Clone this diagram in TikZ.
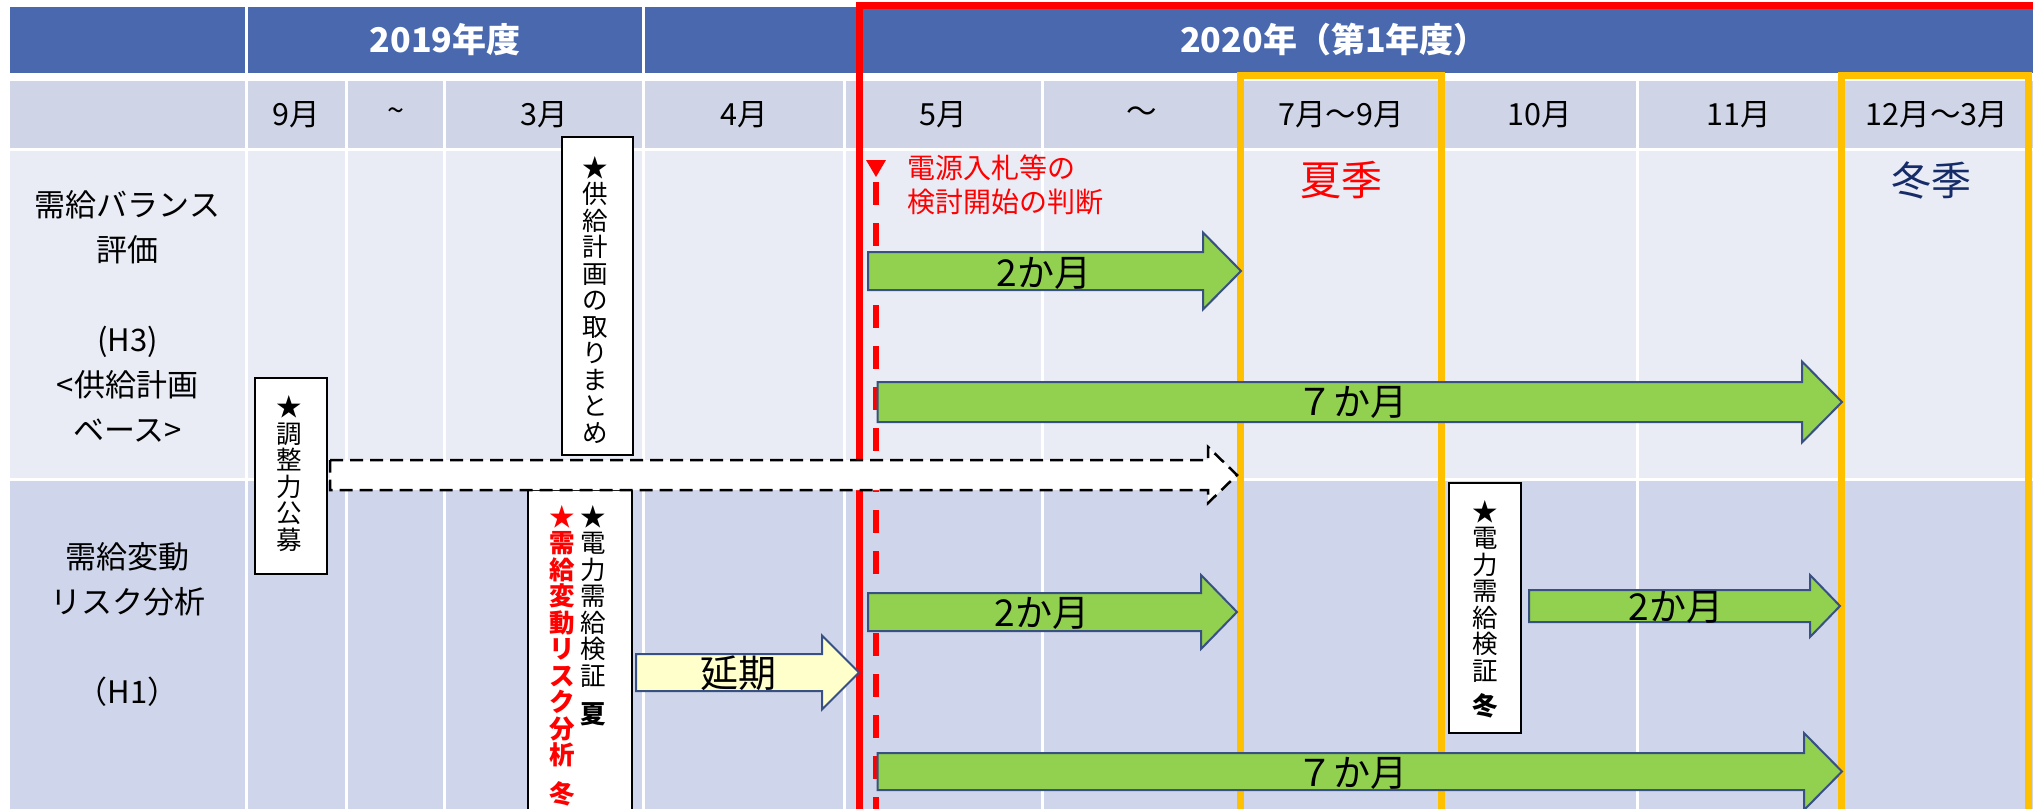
\documentclass[tikz,border=0pt]{standalone}
\usepackage{fontspec}
\setmainfont{Noto Sans CJK JP}
\definecolor{hdr}{RGB}{73,104,174}
\definecolor{mrow}{RGB}{207,213,230}
\definecolor{rowa}{RGB}{233,235,245}
\definecolor{rowb}{RGB}{207,213,234}
\definecolor{org}{RGB}{255,192,0}
\definecolor{grn}{RGB}{146,208,80}
\definecolor{arb}{RGB}{56,80,130}
\definecolor{ylw}{RGB}{255,255,204}
\definecolor{navy}{RGB}{22,44,104}
\definecolor{rd}{RGB}{255,0,0}
\newcommand{\fsz}[2]{\fontsize{#1}{#2}\selectfont}
\newcommand{\vfs}{\fontsize{25.5}{26.5}\selectfont\lineskiplimit=-30pt\relax}
% block arrow: style, left x, head start x, tip x, centre y, shaft half height, head half height
\newcommand{\barrow}[7]{%
  \draw[#1] (#2,#5-#6) -- (#3,#5-#6) -- (#3,#5-#7) -- (#4,#5) -- (#3,#5+#7) -- (#3,#5+#6) -- (#2,#5+#6) -- cycle;}
\begin{document}
\begin{tikzpicture}[x=1pt,y=-1pt,
  every node/.style={inner sep=0pt},
  hdrtxt/.style={text=white,font=\fsz{34}{40}\bfseries},
  mtxt/.style={font=\fsz{30.5}{36}},
  lbl/.style={font=\fsz{31}{45},align=center},
  vbox/.style={draw=black,line width=2.2,fill=white,rectangle},
  vtxt/.style={font=\vfs,align=center},
  garrow/.style={fill=grn,draw=arb,line width=2,line join=miter},
  yarrow/.style={fill=ylw,draw=arb,line width=2,line join=miter},
  darrow/.style={fill=white,draw=black,line width=2.5,dash pattern=on 13pt off 7pt,line join=miter},
  arrtxt/.style={font=\fsz{37}{40}},
  frame/.style={line width=7}]
\useasboundingbox (0,0) rectangle (2033,808);
\clip (0,0) rectangle (2033,808);
\fill[white] (0,0) rectangle (2033,808);
% ---- table cells
\foreach \a/\b in {10/245,248/345,348/443,446/642,645/843,846/1041,1044/1240,1243/1440,1443/1636,1639/1839,1842/2040}{
  \fill[mrow] (\a,81) rectangle (\b,148);
  \fill[rowa] (\a,151) rectangle (\b,478);
  \fill[rowb] (\a,481) rectangle (\b,815);
}
\fill[hdr] (10,7) rectangle (245,73);
\fill[hdr] (248,7) rectangle (642,73);
\fill[hdr] (645,7) rectangle (2040,73);
% ---- header texts
\node[hdrtxt] (y2019) at (445,40) {2019年度};
\node[hdrtxt] (y2020) at (1334,40) {2020年（第1年度）};
% ---- month texts
\node[mtxt] (m9) at (296.5,114.5) {9月};
\node[mtxt] (mt1) at (395.5,114.5) {\textasciitilde};
\node[mtxt] (m3) at (544,114.5) {3月};
\node[mtxt] (m4) at (744,114.5) {4月};
\node[mtxt] (m5) at (943.5,114.5) {5月};
\node[mtxt] (mt2) at (1142,114.5) {～};
\node[mtxt] (m79) at (1341,114.5) {7月～9月};
\node[mtxt] (m10) at (1539.5,114.5) {10月};
\node[mtxt] (m11) at (1739,114.5) {11月};
\node[mtxt] (m123) at (1937,114.5) {12月～3月};
% ---- row labels
\node[lbl] (lblA) at (127.5,316.5) {需給バランス\\評価\\[45pt](H3)\\<供給計画\\ベース>};
\node[lbl] (lblB) at (127.5,624.5) {需給変動\\リスク分析\\[45pt]（H1）};
% ---- season texts and note
\node[font=\fsz{41}{44},text=rd] (natsu) at (1341,180) {夏季};
\node[font=\fsz{40}{44},text=navy] (fuyu) at (1931,180) {冬季};
\node[font=\fsz{28}{34},text=rd,align=left,anchor=west] (note) at (907,185) {電源入札等の\\検討開始の判断};
% ---- frames
\draw[org,frame] (1240.5,75) rectangle (1441.5,812);
\draw[org,frame] (1841,75) rectangle (2028.5,812);
\draw[rd,frame] (859.5,6) rectangle (2045,812);
% ---- decision line
\fill[rd] (866,160) -- (886,160) -- (876,177) -- cycle;
\draw[rd,line width=6,dash pattern=on 23pt off 18pt] (876,182) -- (876,812);
% ---- boxes with vertical text
\node[vbox,minimum width=71,minimum height=318] (kyokyu) at (597.5,296) {};
\node[vtxt] (kyokyuT) at (595,300) {★\\供\\給\\計\\画\\の\\取\\り\\ま\\と\\め};
\node[vbox,minimum width=72,minimum height=196] (chosei) at (291,476) {};
\node[vtxt] (choseiT) at (289,473.5) {★\\調\\整\\力\\公\\募};
\node[vbox,minimum width=104,minimum height=340] (kenA) at (580,660) {};
\node[vtxt] (kenAT) at (593,615.5) {★\\電\\力\\需\\給\\検\\証\\[12pt]\textbf{夏}};
\node[vtxt,font=\vfs\bfseries,text=rd] (riskT) at (562,655.5) {★\\需\\給\\変\\動\\リ\\ス\\ク\\分\\析\\[12pt]冬};
\node[vbox,minimum width=72,minimum height=250] (kenB) at (1485,608) {};
\node[vtxt] (kenBT) at (1485,609.5) {★\\電\\力\\需\\給\\検\\証\\[9pt]\textbf{冬}};
% ---- dashed arrow (調整力公募)
\barrow{darrow}{330}{1208}{1237}{475}{15}{28}
% ---- block arrows
\barrow{yarrow}{636}{822}{859}{672.5}{18.5}{37}
\node[font=\fsz{38}{40}] (enki) at (738,673) {延期};
\barrow{garrow}{868}{1203}{1241}{271}{19}{38.5}
\node[arrtxt] (a2u) at (1044,273) {2か月};
\barrow{garrow}{877.5}{1802}{1842}{402}{20}{40.5}
\node[arrtxt] (a7u) at (1352,402) {７か月};
\barrow{garrow}{868}{1201}{1237}{612}{19}{37}
\node[arrtxt] (a2l) at (1042,613) {2か月};
\barrow{garrow}{1529}{1810}{1840}{606}{16}{31}
\node[arrtxt] (a2r) at (1676,607) {2か月};
\barrow{garrow}{877.5}{1804}{1842}{771.5}{18.5}{38.5}
\node[arrtxt] (a7l) at (1352,773) {７か月};
\end{tikzpicture}
\end{document}
